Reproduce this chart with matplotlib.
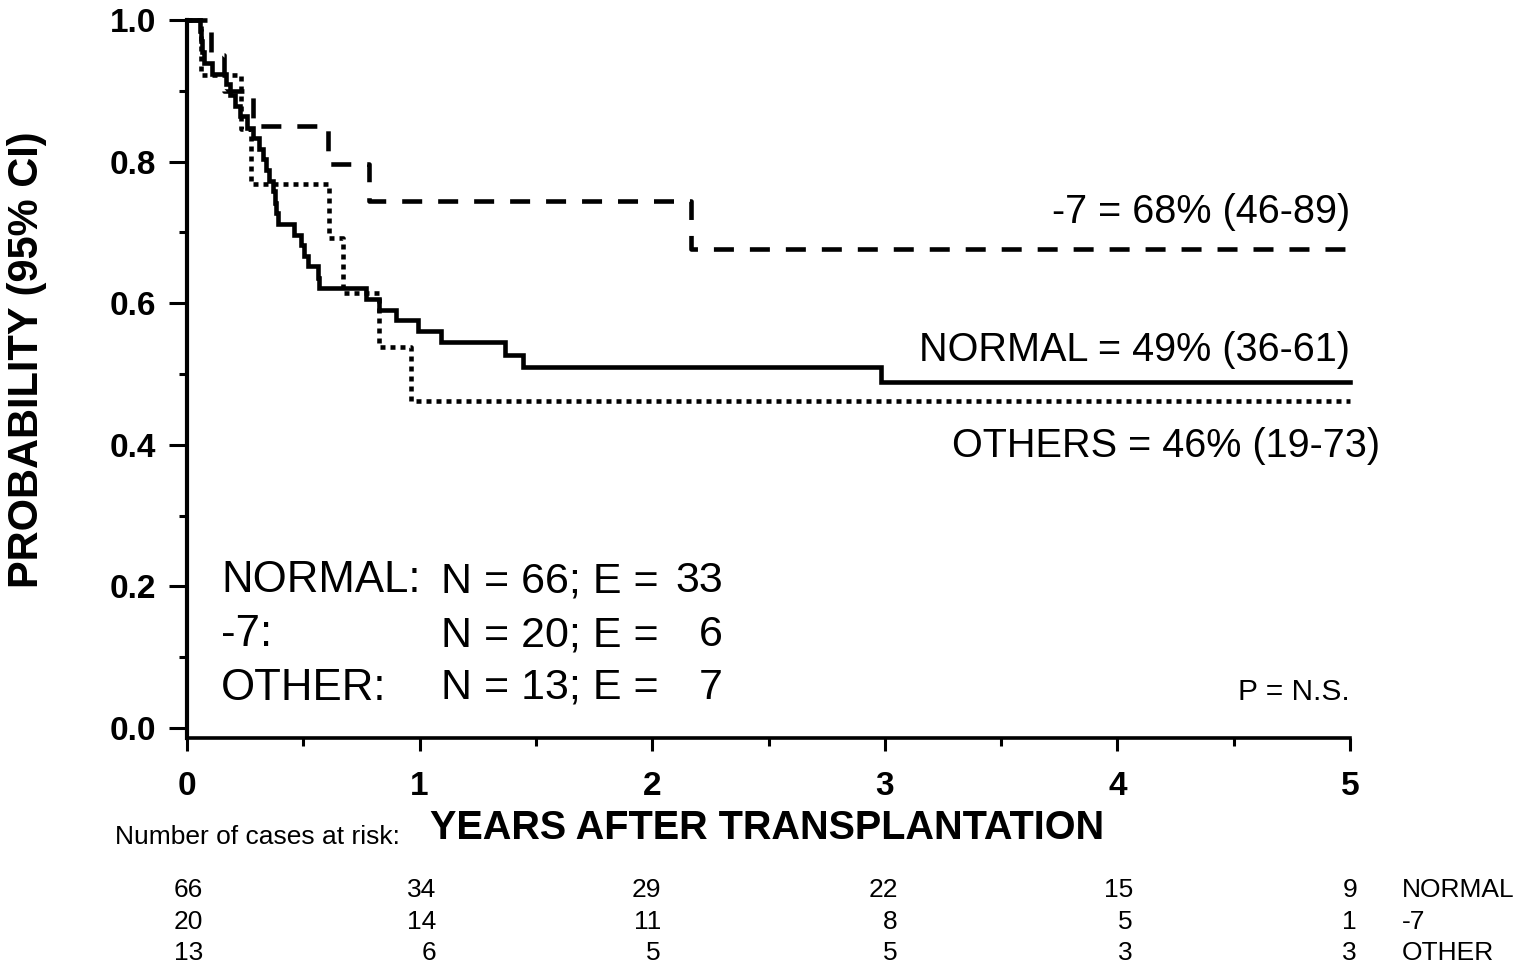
import matplotlib
matplotlib.use('Agg')
import matplotlib.pyplot as plt
from matplotlib.ticker import MultipleLocator, FormatStrFormatter

plt.rcParams['font.family'] = ['Liberation Sans', 'DejaVu Sans']
plt.rcParams['lines.scale_dashes'] = False

# ---------------- data ----------------
normal_t = [0.056, 0.060, 0.064, 0.073, 0.107, 0.168, 0.185, 0.206, 0.228, 0.258,
            0.284, 0.309, 0.326, 0.339, 0.352, 0.369, 0.378, 0.382, 0.391, 0.460,
            0.490, 0.503, 0.520, 0.563, 0.567, 0.769, 0.825, 0.898, 0.992, 1.091,
            1.366, 1.443, 2.985]
normal_s = [0.985, 0.970, 0.955, 0.939, 0.924, 0.909, 0.894, 0.879, 0.864, 0.848,
            0.833, 0.818, 0.803, 0.788, 0.773, 0.758, 0.742, 0.727, 0.712, 0.697,
            0.682, 0.667, 0.652, 0.636, 0.621, 0.606, 0.591, 0.576, 0.561, 0.545,
            0.527, 0.510, 0.489]
minus7_t = [0.103, 0.159, 0.284, 0.606, 0.782, 2.165]
minus7_s = [0.950, 0.900, 0.850, 0.797, 0.744, 0.677]
other_t = [0.060, 0.232, 0.275, 0.610, 0.670, 0.825, 0.962]
other_s = [0.923, 0.846, 0.769, 0.692, 0.615, 0.538, 0.462]
t_start = 0.0
t_end = 5.0

risk_times = [0, 1, 2, 3, 4, 5]
risk_normal = [66, 34, 29, 22, 15, 9]
risk_minus7 = [20, 14, 11, 8, 5, 1]
risk_other = [13, 6, 5, 5, 3, 3]
group_labels = ['NORMAL', '-7', 'OTHER']

summary_labels = ['-7 = 68% (46-89)', 'NORMAL = 49% (36-61)', 'OTHERS = 46% (19-73)']
n_labels = ['NORMAL:', '-7:', 'OTHER:']
n_values = [66, 20, 13]
e_values = [33, 6, 7]

# ---------------- figure ----------------
W, H = 1527, 969
fig = plt.figure(figsize=(W / 100, H / 100), dpi=100)

def fx(px):
    return px / W

def fy(py):
    return 1 - py / H

left, right, top, bottom = 187, 1350, 20, 738
ax = fig.add_axes([fx(left), fy(bottom), fx(right - left), (bottom - top) / H])
ax.set_xlim(0, 5)
ax.set_ylim(-0.014, 1.0)

def km(ts, ss):
    x = [t_start] + list(ts) + [t_end]
    y = [1.0] + list(ss) + [ss[-1]]
    return x, y

lw = 3.3
x, y = km(normal_t, normal_s)
ax.plot(x, y, drawstyle='steps-post', color='black', lw=lw, clip_on=False,
        solid_joinstyle='miter')
x, y = km(minus7_t, minus7_s)
ax.plot(x, y, drawstyle='steps-post', color='black', lw=lw, clip_on=False,
        dashes=(14.4, 11.5), dash_capstyle='butt')
x, y = km(other_t, other_s)
ax.plot(x, y, drawstyle='steps-post', color='black', lw=lw, clip_on=False,
        dashes=(3.6, 3.6), dash_capstyle='butt')

# spines & ticks
for s in ['top', 'right']:
    ax.spines[s].set_visible(False)
ax.spines['left'].set_linewidth(3.0)
ax.spines['bottom'].set_linewidth(2.6)

ax.xaxis.set_major_locator(MultipleLocator(1))
ax.xaxis.set_minor_locator(MultipleLocator(0.5))
ax.yaxis.set_major_locator(MultipleLocator(0.2))
ax.yaxis.set_minor_locator(MultipleLocator(0.1))
ax.yaxis.set_major_formatter(FormatStrFormatter('%.1f'))

ax.tick_params(axis='y', which='major', direction='out', length=13, width=2.2, pad=9)
ax.tick_params(axis='y', which='minor', direction='out', length=5.8, width=2.2)
ax.tick_params(axis='x', which='major', direction='out', length=9.5, width=2.2, pad=14)
ax.tick_params(axis='x', which='minor', direction='out', length=5.8, width=2.2)
for lab in ax.get_xticklabels() + ax.get_yticklabels():
    lab.set_fontsize(24)
    lab.set_fontweight('bold')

# axis titles
fig.text(fx(767), fy(828), 'YEARS AFTER TRANSPLANTATION', fontsize=28.5,
         fontweight='bold', ha='center', va='center')
fig.text(fx(27), fy(360), 'PROBABILITY (95% CI)', fontsize=30,
         fontweight='bold', ha='center', va='center', rotation=90)

# summary annotations
ax.text(5.0, 0.729, summary_labels[0], fontsize=28.5, ha='right', va='center')
ax.text(5.0, 0.534, summary_labels[1], fontsize=28.5, ha='right', va='center')
ax.text(5.13, 0.398, summary_labels[2], fontsize=28.5, ha='right', va='center')
ax.text(5.0, 0.051, 'P = N.S.', fontsize=21.5, ha='right', va='center')

row_px = [581, 635, 688]
for lab, n, e, py in zip(n_labels, n_values, e_values, row_px):
    fig.text(fx(221), fy(py), lab, fontsize=31.5, ha='left', va='center')
    fig.text(fx(441), fy(py), f'N = {n}; E =', fontsize=31, ha='left', va='center')
    fig.text(fx(723), fy(py), f'{e}', fontsize=31, ha='right', va='center')

# risk table
fig.text(fx(115), fy(837), 'Number of cases at risk:', fontsize=19, ha='left', va='center')
col_px = [203, 436, 661, 898, 1133, 1357]
rows = [risk_normal, risk_minus7, risk_other]
rows_py = [890, 922, 953]
for vals, py, glab in zip(rows, rows_py, group_labels):
    for v, cx in zip(vals, col_px):
        fig.text(fx(cx), fy(py), str(v), fontsize=19, ha='right', va='center')
    fig.text(fx(1402), fy(py), glab, fontsize=19, ha='left', va='center')

fig.savefig('out.png', dpi=100)
